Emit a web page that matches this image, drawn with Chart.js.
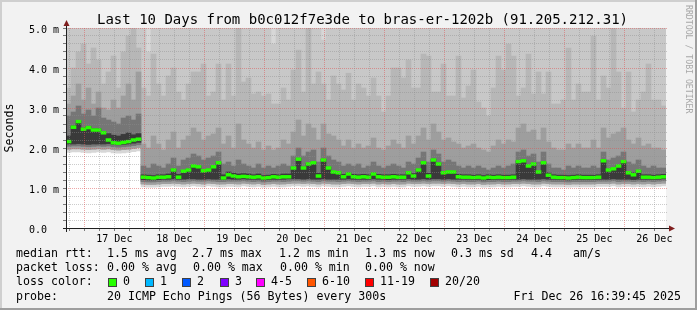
<!DOCTYPE html>
<html>
<head>
<meta charset="utf-8">
<script src="https://cdn.jsdelivr.net/npm/chart.js@4.4.1/dist/chart.umd.min.js"></script>
<style>
  html,body{margin:0;padding:0;background:#f2f2f2;}
  canvas{display:block;}
</style>
</head>
<body>
<canvas id="c" width="697" height="310"></canvas>
<script>
// 10 days, one column per 2h consolidation step (120 columns)
const stepHours = 2;
const spanHours = 240;
const startClock = 16 + 39.75/60;   // graph starts Dec 16 16:39:45
const dayLabels = ['17 Dec','18 Dec','19 Dec','20 Dec','21 Dec','22 Dec','23 Dec','24 Dec','25 Dec','26 Dec'];

// median rtt (ms)
const median = [2.16,2.52,2.66,2.47,2.51,2.45,2.45,2.38,2.2,2.13,2.12,2.14,2.16,2.2,2.22,
1.27,1.26,1.25,1.27,1.27,1.28,1.45,1.27,1.42,1.45,1.55,1.53,1.43,1.45,1.53,
1.63,1.25,1.33,1.3,1.28,1.29,1.28,1.27,1.28,1.25,1.26,1.28,1.27,1.28,1.28,
1.5,1.72,1.5,1.6,1.63,1.3,1.7,1.5,1.4,1.38,1.28,1.35,1.28,1.27,1.28,
1.27,1.35,1.28,1.27,1.27,1.28,1.27,1.27,1.38,1.3,1.45,1.63,1.3,1.7,1.6,
1.38,1.4,1.4,1.28,1.27,1.27,1.26,1.27,1.25,1.27,1.26,1.27,1.26,1.26,1.27,
1.66,1.68,1.55,1.6,1.4,1.63,1.32,1.27,1.26,1.26,1.25,1.26,1.27,1.26,1.26,
1.26,1.27,1.68,1.45,1.48,1.55,1.66,1.38,1.33,1.42,1.27,1.27,1.26,1.27,1.28];

// smoke: upper edges of each ping band, darkest first
const topDark = [2.3,2.55,2.68,2.5,2.54,2.48,2.48,2.41,2.36,2.32,2.3,2.34,2.38,2.33,2.36,
1.33,1.32,1.31,1.33,1.33,1.35,1.47,1.34,1.44,1.47,1.57,1.55,1.45,1.47,1.55,
1.65,1.33,1.4,1.37,1.35,1.36,1.35,1.33,1.35,1.31,1.32,1.34,1.33,1.35,1.35,
1.52,1.74,1.52,1.62,1.65,1.37,1.72,1.52,1.42,1.4,1.34,1.38,1.34,1.33,1.34,
1.33,1.38,1.34,1.33,1.33,1.34,1.33,1.33,1.4,1.36,1.47,1.65,1.37,1.72,1.62,
1.4,1.42,1.42,1.34,1.33,1.33,1.32,1.33,1.31,1.33,1.32,1.33,1.32,1.32,1.33,
1.68,1.7,1.57,1.62,1.42,1.65,1.38,1.33,1.32,1.32,1.31,1.32,1.33,1.32,1.32,
1.32,1.33,1.7,1.47,1.5,1.57,1.68,1.4,1.38,1.44,1.33,1.33,1.32,1.33,1.34];

const topMid = [2.8,2.9,3.05,2.85,2.95,2.8,3.0,2.75,2.7,2.65,2.6,2.75,2.8,2.7,2.85,
1.55,1.5,1.6,1.55,1.5,1.6,1.75,1.55,1.7,1.75,1.85,1.8,1.7,1.75,1.8,
1.9,1.6,1.65,1.55,1.7,1.6,1.55,1.5,1.6,1.5,1.55,1.5,1.55,1.6,1.55,
1.8,2.0,1.8,1.9,1.95,1.65,2.0,1.8,1.7,1.65,1.55,1.6,1.55,1.6,1.5,
1.55,1.65,1.55,1.5,1.55,1.6,1.55,1.5,1.65,1.6,1.75,1.9,1.65,1.95,1.85,
1.65,1.7,1.65,1.55,1.5,1.55,1.5,1.55,1.5,1.45,1.5,1.55,1.5,1.55,1.6,
1.9,1.95,1.8,1.85,1.65,1.9,1.6,1.5,1.5,1.45,1.55,1.5,1.55,1.5,1.5,
1.55,1.5,1.9,1.7,1.75,1.8,1.9,1.65,1.6,1.7,1.55,1.5,1.55,1.5,1.5];

const topLight = [3.1,3.3,3.6,3.2,3.5,3.1,3.4,3.0,2.95,3.2,3.0,3.3,3.6,3.2,3.9,
2.1,2.0,2.3,2.1,1.95,2.2,2.4,2.0,2.2,2.3,2.5,2.4,2.2,2.3,2.35,
2.5,2.1,2.3,2.0,2.6,2.2,2.1,2.0,2.15,1.95,2.05,1.95,2.0,2.2,2.1,
2.4,2.7,2.3,2.6,2.5,2.2,2.6,2.35,2.3,2.2,2.05,2.2,2.0,2.1,2.0,
2.05,2.25,2.0,1.95,2.05,2.2,2.1,2.0,2.3,2.1,2.3,2.5,2.2,2.6,2.4,
2.2,2.25,2.15,2.1,2.0,2.05,2.1,2.0,1.95,1.9,2.05,2.2,2.1,2.2,2.15,
2.5,2.6,2.4,2.45,2.2,2.5,2.15,2.0,1.95,1.95,2.1,2.0,2.1,2.0,2.0,
2.2,2.0,2.5,2.25,2.35,2.4,2.5,2.2,2.1,2.25,2.05,2.1,2.0,2.0,1.95];

const topPale = [3.5,4.0,4.4,4.6,4.1,4.5,4.2,3.6,3.9,4.3,3.5,4.4,4.8,5.0,4.5,
3.5,3.3,4.35,3.6,3.3,3.8,4.0,3.4,3.2,3.6,3.9,3.9,4.1,3.3,3.4,
4.1,3.2,4.1,3.3,5.0,3.65,3.75,3.35,3.4,3.3,3.35,3.1,3.1,3.5,3.2,
3.95,4.45,3.4,5.0,3.6,3.9,3.6,3.2,3.8,3.6,3.45,3.87,3.2,3.6,3.5,
3.3,3.75,3.3,2.9,3.3,4.0,4.0,3.75,4.2,3.5,3.5,4.35,4.3,3.4,3.4,
4.1,3.3,3.3,4.3,3.25,3.55,3.95,3.15,3.0,2.8,3.5,4.3,3.95,4.6,4.3,
3.3,3.5,4.35,3.35,3.9,3.35,3.9,3.1,3.1,3.2,4.5,3.2,3.6,3.4,3.4,
4.8,3.2,3.8,3.5,5.0,3.9,3.0,3.9,2.9,3.2,3.4,4.1,3.2,3.2,3.05];

const topHaze = [6,6,6,6,6,6,6,6,6,6,6,6,6,6,6,
6,4.4,6,6,6,6,6,6,6,6,6,6,6,6,6,
6,6,6,6,6,6,6,6,6,6,6,4.6,6,6,6,
6,6,6,6,6,6,4.7,6,6,6,6,6,6,6,6,
6,6,6,6,6,6,6,6,6,6,6,6,6,6,6,
6,6,6,6,6,6,6,6,6,6,6,6,6,6,6,
6,6,6,6,6,6,6,6,6,6,6,6,6,6,6,
6,6,6,6,6,6,6,6,6,6,6,6,6,6,6];

const smokeMax = [6,6,6,6,6,6,6,6,6,6,6,6,6,6,6,
6,6,6,6,6,6,6,6,6,6,6,6,6,6,6,
6,6,6,6,6,6,6,6,6,6,6,6,6,6,6,
6,6,6,6,6,6,6,6,6,6,6,6,6,6,6,
6,6,6,6,6,6,6,6,6,6,6,6,6,6,6,
6,6,6,6,6,6,6,6,6,6,6,6,6,6,6,
6,6,6,6,6,6,6,6,6,6,6,6,6,6,6,
6,6,6,6,6,6,6,6,6,6,6,6,6,6,6];

// smoke: lower edges
const lowDark = [2.1,2.1,2.11,2.1,2.09,2.1,2.1,2.1,2.11,2.09,2.08,2.09,2.1,2.12,2.14,
1.21,1.2,1.2,1.21,1.22,1.22,1.23,1.22,1.22,1.23,1.23,1.22,1.22,1.23,1.22,
1.22,1.21,1.23,1.22,1.22,1.23,1.22,1.22,1.22,1.2,1.21,1.22,1.22,1.22,1.23,
1.23,1.23,1.22,1.23,1.22,1.22,1.23,1.22,1.22,1.22,1.22,1.23,1.22,1.22,1.22,
1.22,1.23,1.22,1.22,1.21,1.22,1.22,1.22,1.23,1.22,1.22,1.23,1.22,1.23,1.23,
1.22,1.23,1.22,1.22,1.22,1.22,1.21,1.22,1.2,1.21,1.21,1.22,1.21,1.21,1.22,
1.22,1.23,1.22,1.22,1.22,1.23,1.22,1.22,1.21,1.21,1.2,1.21,1.22,1.21,1.21,
1.21,1.22,1.22,1.22,1.23,1.22,1.22,1.22,1.21,1.22,1.22,1.22,1.21,1.22,1.23];

const lowMid = [2.04,2.05,2.05,2.04,2.03,2.04,2.05,2.04,2.05,2.03,2.02,2.03,2.04,2.06,2.08,
1.16,1.15,1.15,1.16,1.17,1.17,1.18,1.17,1.16,1.17,1.18,1.17,1.17,1.18,1.17,
1.16,1.16,1.17,1.17,1.17,1.18,1.17,1.16,1.17,1.15,1.16,1.17,1.17,1.16,1.17,
1.18,1.18,1.17,1.18,1.17,1.16,1.18,1.17,1.17,1.16,1.17,1.18,1.17,1.16,1.17,
1.17,1.18,1.16,1.17,1.16,1.17,1.17,1.16,1.18,1.17,1.17,1.18,1.17,1.18,1.18,
1.17,1.18,1.17,1.16,1.17,1.16,1.16,1.17,1.15,1.16,1.16,1.17,1.16,1.16,1.17,
1.17,1.18,1.17,1.17,1.16,1.18,1.17,1.16,1.16,1.16,1.15,1.16,1.16,1.16,1.16,
1.16,1.17,1.17,1.17,1.18,1.16,1.17,1.17,1.16,1.17,1.16,1.17,1.16,1.17,1.18];

const lowLight = [1.97,1.98,1.98,1.97,1.96,1.97,1.98,1.97,1.98,1.96,1.95,1.96,1.97,1.99,2.01,
1.1,1.09,1.09,1.1,1.11,1.11,1.12,1.11,1.1,1.11,1.12,1.11,1.1,1.12,1.11,
1.1,1.1,1.11,1.11,1.1,1.12,1.11,1.1,1.11,1.09,1.1,1.11,1.1,1.1,1.11,
1.12,1.12,1.11,1.12,1.11,1.1,1.12,1.11,1.1,1.1,1.11,1.12,1.11,1.1,1.11,
1.11,1.12,1.1,1.11,1.1,1.11,1.1,1.1,1.12,1.11,1.11,1.12,1.11,1.12,1.12,
1.11,1.12,1.11,1.1,1.11,1.1,1.1,1.11,1.09,1.1,1.1,1.11,1.1,1.1,1.11,
1.11,1.12,1.11,1.1,1.1,1.12,1.11,1.1,1.1,1.1,1.09,1.1,1.1,1.1,1.1,
1.1,1.11,1.11,1.11,1.12,1.1,1.11,1.11,1.1,1.11,1.1,1.11,1.1,1.11,1.12];

const lowFloor = [1.89,1.9,1.9,1.89,1.88,1.89,1.9,1.89,1.9,1.88,1.87,1.88,1.89,1.91,1.93,
1.03,1.02,1.02,1.03,1.04,1.04,1.05,1.04,1.03,1.04,1.05,1.04,1.03,1.05,1.04,
1.03,1.03,1.04,1.04,1.03,1.05,1.04,1.03,1.04,1.02,1.03,1.04,1.03,1.03,1.04,
1.05,1.05,1.04,1.05,1.04,1.03,1.05,1.04,1.03,1.03,1.04,1.05,1.04,1.03,1.04,
1.04,1.05,1.03,1.04,1.03,1.04,1.03,1.03,1.05,1.04,1.04,1.05,1.04,1.05,1.05,
1.04,1.05,1.04,1.03,1.04,1.03,1.03,1.04,1.02,1.03,1.03,1.04,1.03,1.03,1.04,
1.04,1.05,1.04,1.03,1.03,1.05,1.04,1.03,1.03,1.03,1.02,1.03,1.03,1.03,1.03,
1.03,1.04,1.04,1.04,1.05,1.03,1.04,1.04,1.03,1.04,1.03,1.04,1.03,1.04,1.05];

// legend
const lossColors = ['#26ff00','#00b8ff','#0059ff','#7e00ff','#ff00ff','#ff5500','#ff0000','#a10000'];
const lossLabels = ['0','1','2','3','4-5','6-10','11-19','20/20'];
const rttItems = ['median rtt:','1.5 ms avg','2.7 ms max','1.2 ms min','1.3 ms now','0.3 ms sd','4.4','am/s'];
const lossItems = ['packet loss:','0.00 % avg','0.00 % max','0.00 % min','0.00 % now'];
const titleText = 'Last 10 Days from b0c012f7e3de to bras-er-1202b (91.205.212.31)';
const probeText = '20 ICMP Echo Pings (56 Bytes) every 300s';
const stampText = 'Fri Dec 26 16:39:45 2025';

const MONO = '"DejaVu Sans Mono", monospace';
const firstMidnight = 24 - startClock;
const noonHours = dayLabels.map((_, k) => firstMidnight + 12 + 24 * k);
const tickMs = 0.035;

function band(lo, hi, color) {
  return {
    data: lo.map((v, i) => ({x: i * stepHours + stepHours / 2, y: [v, hi[i]]})),
    backgroundColor: color, borderWidth: 0, grouped: false,
    categoryPercentage: 1, barPercentage: 1, clip: 0
  };
}

const datasets = [
  band(median.map(v => v - tickMs), median.map(v => v + tickMs), '#26ff00'),
  band(lowDark, topDark, '#3a3a3a'),
  band(lowMid, topMid, '#767676'),
  band(lowLight, topLight, '#9e9e9e'),
  band(lowLight, topPale, '#b7b7b7'),
  band(lowLight, topHaze, '#c8c8c8'),
  band(lowFloor, smokeMax, '#d7d7d7')
];

const framePlugin = {
  id: 'frame',
  beforeDraw(chart) {
    const {ctx, width, height, chartArea: a} = chart;
    ctx.save();
    ctx.fillStyle = '#f2f2f2';
    ctx.fillRect(0, 0, width, height);
    ctx.fillStyle = '#ffffff';
    ctx.fillRect(a.left, a.top, a.right - a.left, a.bottom - a.top);
    ctx.fillStyle = '#cfcfcf';
    ctx.fillRect(0, 0, width, 2); ctx.fillRect(0, 0, 2, height);
    ctx.fillStyle = '#9e9e9e';
    ctx.fillRect(0, height - 2, width, 2); ctx.fillRect(width - 2, 0, 2, height);
    ctx.restore();
  }
};

// rrdtool style grid on top of the smoke
const gridPlugin = {
  id: 'rrdGrid',
  afterDatasetsDraw(chart) {
    const {ctx, chartArea: a, scales: {x, y}} = chart;
    ctx.save();
    ctx.lineWidth = 1;
    ctx.setLineDash([1, 1]);
    const minor = 'rgba(143,143,143,0.45)', major = 'rgba(222,79,79,0.5)';
    for (let k = 1; k <= 25; k++) {
      const py = Math.floor(y.getPixelForValue(k * 0.2)) + 0.5;
      ctx.strokeStyle = k % 5 === 0 ? major : minor;
      ctx.beginPath(); ctx.moveTo(a.left, py); ctx.lineTo(a.right + 2, py); ctx.stroke();
    }
    for (let h = firstMidnight - 6; h < spanHours; h += 6) {
      const px = Math.floor(x.getPixelForValue(h)) + 0.5;
      const isMid = Math.abs(((h - firstMidnight) % 24 + 24) % 24) < 0.01;
      ctx.strokeStyle = isMid ? major : minor;
      ctx.beginPath(); ctx.moveTo(px, a.top); ctx.lineTo(px, a.bottom); ctx.stroke();
    }
    ctx.setLineDash([]);
    // tick marks
    ctx.strokeStyle = '#7a7a7a';
    for (let k = 1; k <= 25; k++) {
      const py = Math.floor(y.getPixelForValue(k * 0.2)) + 0.5;
      ctx.beginPath(); ctx.moveTo(a.left - 3, py); ctx.lineTo(a.left, py); ctx.stroke();
    }
    for (let h = firstMidnight - 6; h < spanHours; h += 6) {
      const px = Math.floor(x.getPixelForValue(h)) + 0.5;
      ctx.beginPath(); ctx.moveTo(px, a.bottom); ctx.lineTo(px, a.bottom + 3); ctx.stroke();
    }
    // axes
    ctx.fillStyle = '#1f1f1f';
    ctx.fillRect(a.left - 3, a.bottom, a.right - a.left + 8, 1);
    ctx.fillRect(a.left, a.top - 5, 1, a.bottom - a.top + 9);
    ctx.fillStyle = '#801f1f';
    ctx.beginPath();
    ctx.moveTo(a.left - 2.5, a.top - 2); ctx.lineTo(a.left + 3.5, a.top - 2); ctx.lineTo(a.left + 0.5, a.top - 8);
    ctx.closePath(); ctx.fill();
    ctx.beginPath();
    ctx.moveTo(a.right + 3, a.bottom - 2.5); ctx.lineTo(a.right + 3, a.bottom + 3.5); ctx.lineTo(a.right + 9, a.bottom + 0.5);
    ctx.closePath(); ctx.fill();
    ctx.restore();
  }
};

const textPlugin = {
  id: 'texts',
  afterDraw(chart) {
    const ctx = chart.ctx;
    ctx.save();
    ctx.fillStyle = '#000';
    ctx.textBaseline = 'alphabetic';
    ctx.font = '14px ' + MONO;
    ctx.fillText(titleText, 97, 24);

    ctx.font = '11.6px ' + MONO;
    ctx.save();
    ctx.translate(10, 128); ctx.rotate(-Math.PI / 2);
    ctx.textAlign = 'center'; ctx.textBaseline = 'middle';
    ctx.fillText('Seconds', 0, 0);
    ctx.restore();

    ctx.save();
    ctx.fillStyle = '#a8a8a8';
    ctx.font = '8.2px ' + MONO;
    ctx.translate(688, 5); ctx.rotate(Math.PI / 2);
    ctx.textBaseline = 'middle';
    ctx.fillText('RRDTOOL / TOBI OETIKER', 0, 0);
    ctx.restore();

    ctx.textBaseline = 'middle';
    const rttX = [16, 107, 192, 279, 365, 451, 531, 573];
    rttItems.forEach((t, i) => ctx.fillText(t, rttX[i], 254));
    const lossX = [16, 107, 193, 280, 365];
    lossItems.forEach((t, i) => ctx.fillText(t, lossX[i], 268));
    ctx.fillText('loss color:', 16, 282);
    const boxX = [108, 145, 182, 220, 256, 307, 365, 430];
    lossColors.forEach((c, i) => {
      ctx.fillStyle = c;
      ctx.fillRect(boxX[i], 278, 9, 9);
      ctx.strokeStyle = '#404040';
      ctx.lineWidth = 1;
      ctx.strokeRect(boxX[i] + 0.5, 278.5, 8, 8);
      ctx.fillStyle = '#000';
      ctx.fillText(lossLabels[i], boxX[i] + 15, 282);
    });
    ctx.fillText('probe:', 16, 296.5);
    ctx.fillText(probeText, 107, 296.5);
    ctx.textAlign = 'right';
    ctx.fillText(stampText, 681, 296.5);
    ctx.restore();
  }
};

new Chart(document.getElementById('c'), {
  type: 'bar',
  data: {datasets},
  options: {
    responsive: false,
    animation: false,
    devicePixelRatio: 1,
    layout: {padding: {left: 29, top: 28, right: 31, bottom: 62}},
    plugins: {legend: {display: false}, tooltip: {enabled: false}},
    scales: {
      x: {
        type: 'linear', min: 0, max: spanHours, offset: false,
        grid: {display: false, offset: false}, border: {display: false},
        afterFit(s) { s.height = 20; },
        afterBuildTicks(s) { s.ticks = noonHours.map(v => ({value: v})); },
        ticks: {
          autoSkip: false, maxRotation: 0, padding: -3, color: '#000',
          font: {family: MONO, size: 10},
          callback: (v, i) => dayLabels[i]
        }
      },
      y: {
        min: 0, max: 5,
        grid: {display: false}, border: {display: false},
        afterFit(s) { s.width = 37; },
        ticks: {
          stepSize: 1, crossAlign: 'far', labelOffset: 2.5, color: '#000',
          font: {family: MONO, size: 10},
          callback: v => v === 0 ? '0.0' : v.toFixed(1) + ' m'
        }
      }
    }
  },
  plugins: [framePlugin, gridPlugin, textPlugin]
});
</script>
</body>
</html>
